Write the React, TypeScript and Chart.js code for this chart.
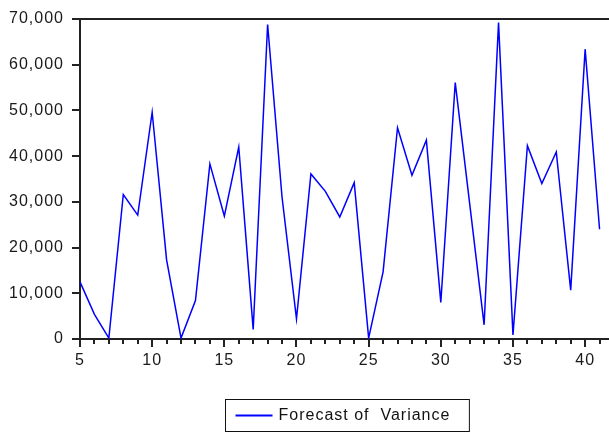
import React, { useEffect, useRef } from "react";
import { Chart, registerables } from "chart.js";

Chart.register(...registerables);

const periods = [5, 6, 7, 8, 9, 10, 11, 12, 13, 14, 15, 16, 17, 18, 19, 20, 21, 22, 23, 24, 25, 26, 27, 28, 29, 30, 31, 32, 33, 34, 35, 36, 37, 38, 39, 40, 41];
const forecastVariance = [12500, 5400, 200, 31600, 27100, 49600, 17300, 200, 8400, 38300, 26900, 42000, 2100, 68800, 31000, 4400, 36100, 32300, 26700, 34200, 200, 14700, 46200, 35800, 43500, 8000, 56100, 29600, 3100, 69200, 900, 42300, 34000, 40900, 10700, 63400, 24000];
const xMajorTicks = [5, 10, 15, 20, 25, 30, 35, 40];
const yTicks = [0, 10000, 20000, 30000, 40000, 50000, 60000, 70000];
const seriesLabel = "Forecast of  Variance";

const FONT = "Arial, 'Liberation Sans', sans-serif";

const spacingPlugin = {
  id: "spacing",
  beforeLayout(chart: any) {
    (chart.ctx as any).letterSpacing = "1px";
  },
  beforeDraw(chart: any) {
    (chart.ctx as any).letterSpacing = "1px";
  },
};

const framePlugin = {
  id: "frame",
  afterDraw(chart: any) {
    const { ctx, chartArea } = chart;
    const xs = chart.scales.x;
    ctx.save();
    // top border
    ctx.strokeStyle = "#222";
    ctx.lineWidth = 2;
    ctx.beginPath();
    ctx.moveTo(chartArea.left - 1, chartArea.top);
    ctx.lineTo(chartArea.right + 2, chartArea.top);
    ctx.stroke();
    // minor ticks
    ctx.lineWidth = 2;
    ctx.beginPath();
    for (const v of periods) {
      const px = Math.round(xs.getPixelForValue(v));
      ctx.moveTo(px, chartArea.bottom);
      ctx.lineTo(px, chartArea.bottom + 5);
    }
    ctx.stroke();
    // legend
    const ds = chart.data.datasets[0];
    (ctx as any).letterSpacing = "1px";
    ctx.font = `16px ${FONT}`;
    const tw = ctx.measureText(ds.label).width;
    const lineLen = 37;
    const gap = 6;
    const padL = 10;
    const padR = 19;
    const boxW = padL + lineLen + gap + tw + padR;
    const boxH = 32;
    const cx = (chartArea.left + chartArea.right) / 2;
    const bx = Math.round(cx - boxW / 2) + 0.5;
    const by = 399.5;
    ctx.strokeStyle = "#111";
    ctx.lineWidth = 1;
    ctx.strokeRect(bx, by, boxW, boxH);
    const my = by + boxH / 2;
    ctx.strokeStyle = ds.borderColor;
    ctx.lineWidth = 2;
    ctx.beginPath();
    ctx.moveTo(bx + padL, my);
    ctx.lineTo(bx + padL + lineLen, my);
    ctx.stroke();
    ctx.fillStyle = "#111";
    ctx.textBaseline = "middle";
    ctx.textAlign = "left";
    ctx.fillText(ds.label, bx + padL + lineLen + gap, my);
    ctx.restore();
  },
};

export default function App() {
  const ref = useRef<HTMLCanvasElement>(null);
  useEffect(() => {
    document.body.style.margin = "0";
    document.body.style.overflow = "hidden";
    const chart = new Chart(ref.current!, {
      type: "line",
      data: {
        datasets: [
          {
            label: seriesLabel,
            data: periods.map((p, i) => ({ x: p, y: forecastVariance[i] })),
            borderColor: "#0000ff",
            borderWidth: 1.5,
            pointRadius: 0,
            tension: 0,
            fill: false,
          },
        ],
      },
      options: {
        responsive: false,
        animation: false,
        layout: { padding: { top: 19, right: 0, bottom: 53, left: 0 } },
        plugins: { legend: { display: false }, tooltip: { enabled: false } },
        scales: {
          x: {
            type: "linear",
            min: 5,
            max: 42,
            afterFit(scale: any) {
              scale.height = 40;
            },
            afterBuildTicks(scale: any) {
              scale.ticks = xMajorTicks.map((v) => ({ value: v }));
            },
            grid: { display: true, drawOnChartArea: false, drawTicks: true, tickLength: 8, color: "#222", lineWidth: 2 },
            border: { display: true, color: "#222", width: 2 },
            ticks: {
              padding: 4,
              color: "#1a1a1a",
              font: { family: FONT, size: 16 },
              maxRotation: 0,
              autoSkip: false,
            },
          },
          y: {
            min: 0,
            max: 70000,
            afterFit(scale: any) {
              scale.width = 80;
            },
            afterBuildTicks(scale: any) {
              scale.ticks = yTicks.map((v) => ({ value: v }));
            },
            grid: { display: true, drawOnChartArea: false, drawTicks: true, tickLength: 8, color: "#222", lineWidth: 2 },
            border: { display: true, color: "#222", width: 2 },
            ticks: {
              padding: 8,
              color: "#1a1a1a",
              font: { family: FONT, size: 16 },
              callback: (v: any) => Number(v).toLocaleString("en-US"),
            },
          },
        },
      },
      plugins: [spacingPlugin, framePlugin],
    });
    return () => chart.destroy();
  }, []);
  return (
    <div style={{ width: 609, height: 432, overflow: "hidden", position: "relative", background: "#fff" }}>
      <canvas ref={ref} width={614} height={432} style={{ display: "block" }} />
    </div>
  );
}
